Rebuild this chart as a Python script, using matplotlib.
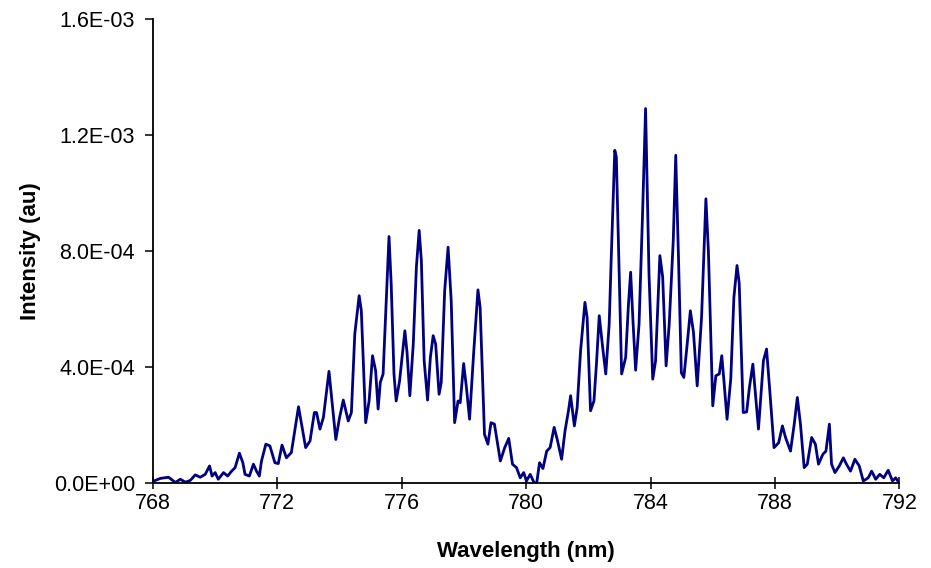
"""
Emission spectrum: intensity vs wavelength, two bands of sharp lines
around 776 nm and 784 nm.
"""
import matplotlib
matplotlib.use('Agg')
from matplotlib import pyplot as plt
from matplotlib.ticker import FuncFormatter

plt.rcParams['font.family'] = ['Liberation Sans', 'DejaVu Sans']

# wavelength (nm)
wavelength = [
    768.03, 768.24, 768.50, 768.72, 768.88, 769.04, 769.20, 769.36, 769.52, 769.68,
    769.82, 769.90, 770.00, 770.10, 770.27, 770.40, 770.53, 770.64, 770.78, 770.89,
    770.96, 771.10, 771.23, 771.33, 771.42, 771.49, 771.63, 771.76, 771.92,
    772.03, 772.15, 772.29, 772.45, 772.68, 772.91, 773.05, 773.19, 773.26, 773.37,
    773.48, 773.66, 773.88, 773.99, 774.12, 774.28, 774.38, 774.49, 774.63, 774.70,
    774.84, 774.95, 775.06, 775.16, 775.24, 775.31, 775.40, 775.50, 775.59, 775.66,
    775.75, 775.82, 775.93, 776.10, 776.17, 776.26, 776.37, 776.47, 776.56, 776.63,
    776.72, 776.83, 776.92, 777.01, 777.09, 777.20, 777.27, 777.38, 777.49, 777.59,
    777.70, 777.81, 777.88, 777.99, 778.08, 778.18, 778.31, 778.45, 778.52, 778.66,
    778.77, 778.87, 778.98, 779.17, 779.31, 779.44, 779.56, 779.69, 779.81, 779.92,
    780.01, 780.13, 780.26, 780.34, 780.43, 780.54, 780.66, 780.77, 780.90, 781.00,
    781.14, 781.25, 781.36, 781.43, 781.55, 781.64, 781.75, 781.89, 781.96, 782.07,
    782.18, 782.26, 782.35, 782.46, 782.56, 782.67, 782.74, 782.85, 782.90, 782.99,
    783.07, 783.20, 783.29, 783.36, 783.44, 783.52, 783.63, 783.74, 783.84, 783.88,
    783.95, 784.07, 784.16, 784.30, 784.39, 784.50, 784.60, 784.73, 784.81, 784.90,
    784.99, 785.07, 785.17, 785.28, 785.38, 785.50, 785.64, 785.78, 785.86, 786.00,
    786.10, 786.21, 786.29, 786.36, 786.46, 786.58, 786.68, 786.78, 786.85, 786.98,
    787.09, 787.18, 787.29, 787.47, 787.63, 787.73, 787.84, 787.97, 788.12, 788.24,
    788.34, 788.50, 788.62, 788.72, 788.82, 788.94, 789.04, 789.18, 789.30, 789.40,
    789.54, 789.64, 789.75, 789.82, 789.93, 790.07, 790.20, 790.30, 790.43, 790.57,
    790.71, 790.84, 791.00, 791.11, 791.24, 791.37, 791.50, 791.64, 791.78, 791.88,
    791.99,
]

# intensity in units of 1e-4 au
intensity_e4 = [
    0.07, 0.16, 0.20, 0.02, 0.13, 0.03, 0.09, 0.28, 0.20, 0.30,
    0.59, 0.24, 0.36, 0.13, 0.36, 0.24, 0.41, 0.53, 1.03, 0.70,
    0.30, 0.24, 0.65, 0.41, 0.24, 0.76, 1.34, 1.28, 0.70,
    0.67, 1.31, 0.87, 1.05, 2.63, 1.22, 1.45, 2.43, 2.43, 1.86,
    2.26, 3.85, 1.50, 2.20, 2.86, 2.14, 2.43, 5.14, 6.46, 5.94,
    2.08, 2.83, 4.39, 3.87, 2.55, 3.47, 3.76, 6.29, 8.50, 6.87,
    3.76, 2.83, 3.52, 5.25, 4.50, 3.01, 4.79, 7.44, 8.71, 7.67,
    4.22, 2.86, 4.33, 5.08, 4.79, 3.06, 3.47, 6.63, 8.13, 6.29,
    2.08, 2.83, 2.77, 4.12, 3.29, 2.20, 4.45, 6.66, 6.06, 1.68,
    1.34, 2.08, 2.03, 0.76, 1.22, 1.54, 0.65, 0.53, 0.18, 0.36,
    0.07, 0.30, 0.00, 0.01, 0.70, 0.50, 1.10, 1.22, 1.92, 1.50,
    0.82, 1.80, 2.49, 3.01, 1.97, 2.60, 4.56, 6.23, 5.71, 2.49,
    2.83, 4.10, 5.77, 4.68, 3.76, 5.48, 7.90, 11.47, 11.24, 7.21,
    3.76, 4.33, 6.17, 7.27, 5.48, 3.89, 5.48, 9.17, 12.91, 10.90,
    7.21, 3.58, 4.20, 7.84, 7.10, 4.04, 5.48, 8.36, 11.30, 7.70,
    3.80, 3.64, 4.70, 5.94, 5.20, 3.35, 5.71, 9.80, 8.00, 2.66,
    3.70, 3.76, 4.39, 3.52, 2.20, 3.60, 6.40, 7.50, 6.90, 2.43,
    2.45, 3.30, 4.10, 1.86, 4.22, 4.62, 3.10, 1.22, 1.39, 1.97,
    1.57, 1.10, 2.03, 2.95, 2.03, 0.53, 0.65, 1.57, 1.34, 0.65,
    0.99, 1.10, 2.03, 0.65, 0.36, 0.59, 0.87, 0.65, 0.41, 0.82,
    0.59, 0.07, 0.18, 0.41, 0.13, 0.30, 0.18, 0.44, 0.07, 0.18,
    0.01,
]

x_ticks = [768, 772, 776, 780, 784, 788, 792]
y_ticks = [0.0, 4.0e-4, 8.0e-4, 1.2e-3, 1.6e-3]

intensity = [v * 1e-4 for v in intensity_e4]

fig = plt.figure(figsize=(9.31, 5.68), dpi=100)
ax = fig.add_axes([0.1643, 0.1496, 0.8017, 0.817])

ax.plot(wavelength, intensity, color='#000080', linewidth=2.0)

ax.set_xlim(768, 792)
ax.set_ylim(0, 1.6e-3)
ax.set_xticks(x_ticks)
ax.set_yticks(y_ticks)
ax.yaxis.set_major_formatter(FuncFormatter(lambda v, p: '{:.1E}'.format(v)))

ax.spines['top'].set_visible(False)
ax.spines['right'].set_visible(False)
for s in ['left', 'bottom']:
    ax.spines[s].set_linewidth(1.3)
    ax.spines[s].set_color('black')

ax.tick_params(axis='x', direction='inout', length=9, width=1.1, labelsize=15.5, pad=3)
ax.tick_params(axis='y', direction='out', length=6, width=1.1, labelsize=15.5, pad=7)

ax.set_xlabel('Wavelength (nm)', fontsize=16, fontweight='bold', labelpad=19)
ax.set_ylabel('Intensity (au)', fontsize=16, fontweight='bold', labelpad=9)

fig.savefig('out.png', dpi=100)
